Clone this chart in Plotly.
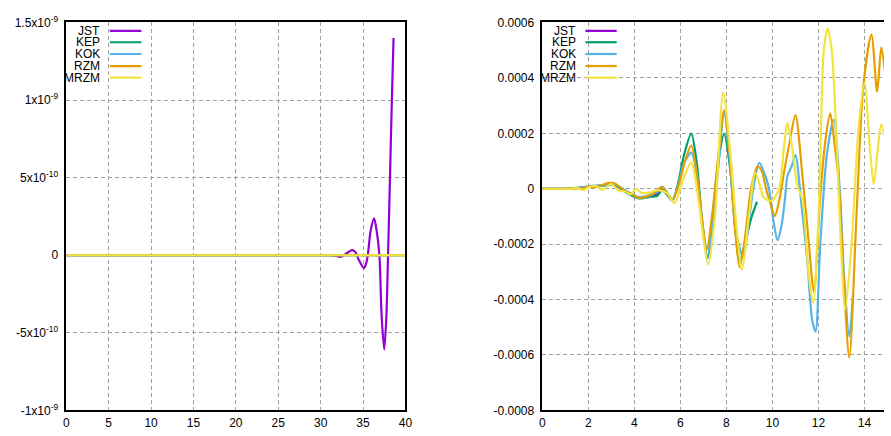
import plotly.graph_objects as go

# ---------------- data ----------------
SERIES = ["JST", "KEP", "KOK", "RZM", "MRZM"]
COLORS = {"JST": "#9400D3", "KEP": "#009E73", "KOK": "#56B4E9",
          "RZM": "#E69F00", "MRZM": "#F0E442"}

# left panel (values in 1e-10)
left_flat_x = [0, 5, 10, 15, 20, 25, 30, 35, 40]
left_flat_y = [0, 0, 0, 0, 0, 0, 0, 0, 0]
left_jst_x = [0, 5, 10, 15, 20, 25, 28, 30, 31, 31.8, 32.4, 33.0, 33.7, 34.1, 34.5,
              35.1, 35.35, 35.56, 35.9, 36.3, 36.6, 36.93, 37.2, 37.5, 37.75, 37.95,
              38.2, 38.4, 38.6]
left_jst_y = [0, 0, 0, 0, 0, 0, 0, 0.01, 0, -0.05, -0.1, 0.1, 0.33, 0.2, -0.3,
              -0.83, -0.55, 0, 1.6, 2.38, 1.6, 0, -4.0, -6.08, -4.0, 0,
              5.5, 10.0, 14.0]

# right panel (values in 1e-4)
jst_x = [0, 1.0, 1.4, 1.8, 2.1, 2.5, 2.8, 3.1, 3.5, 3.9, 4.2, 4.6, 5.0, 5.2, 5.4, 5.6]
jst_y = [0, 0, 0.02, 0.05, 0.08, 0.1, 0.12, 0.15, -0.03, -0.22, -0.32, -0.28, -0.2, -0.02, -0.15, -0.35]

kep_x = [0, 1.0, 1.4, 1.8, 2.1, 2.5, 2.8, 3.1, 3.5, 3.9, 4.2, 4.6, 5.0, 5.2, 5.4,
         5.65, 5.9, 6.15, 6.47, 6.7, 6.95, 7.18, 7.4, 7.65, 7.9, 8.15, 8.4, 8.57,
         8.85, 9.1, 9.33]
kep_y = [0, 0, 0.02, 0.05, 0.08, 0.1, 0.12, 0.15, -0.05, -0.25, -0.35, -0.3, -0.25,
         -0.05, -0.2, -0.42, 0.2, 1.2, 1.99, 1.0, -1.2, -2.5, -1.0, 1.0, 1.99, 0.8,
         -1.6, -2.67, -1.8, -1.0, -0.47]

kok_x = [0, 1.0, 1.4, 1.8, 2.1, 2.5, 2.8, 3.1, 3.5, 3.9, 4.2, 4.6, 5.0, 5.2, 5.4,
         5.65, 5.9, 6.15, 6.47, 6.7, 6.95, 7.18, 7.4, 7.65, 7.9, 8.15, 8.4, 8.72,
         9.0, 9.2, 9.43, 9.65, 9.85, 10.05, 10.22, 10.4, 10.55, 10.65, 10.85, 11.0,
         11.25, 11.51, 11.72, 11.87, 12.08, 12.37, 12.66, 12.94, 13.11, 13.34, 13.5]
kok_y = [0, 0, 0.02, 0.06, 0.1, 0.12, 0.1, 0.17, 0, -0.2, -0.3, -0.25, -0.1, 0.08,
         -0.1, -0.38, 0.1, 0.9, 1.3, 0.6, -1.3, -2.44, -1.2, 0.8, 2.75, 1.0, -1.5,
         -2.44, -1.0, 0.2, 0.93, 0.55, 0.0, -1.2, -1.86, -1.3, -0.3, 0.46, 0.85, 1.21,
         -0.5, -2.55, -4.7, -5.16, -1.97, 1.27, 2.49, -0.23, -3.13, -5.34, -3.8]

rzm_x = [0, 1.0, 1.4, 1.7, 1.98, 2.2, 2.49, 2.84, 3.13, 3.56, 3.92, 4.2, 4.7, 5.2,
         5.64, 5.95, 6.2, 6.47, 6.75, 6.95, 7.14, 7.4, 7.65, 7.9, 8.15, 8.35, 8.57,
         8.8, 9.07, 9.35, 9.55, 9.72, 9.9, 10.1, 10.3, 10.5, 10.75, 11.0, 11.29,
         11.58, 11.8, 12.08, 12.3, 12.51, 12.7, 12.87, 13.09, 13.34, 13.66, 13.95,
         14.3, 14.55, 14.73, 14.95]
rzm_y = [0, 0, 0.02, 0.0, 0.09, 0.05, 0.1, 0.2, 0.2, -0.06, -0.21, -0.33, -0.23, 0.05,
         -0.41, 0.2, 1.0, 1.56, 0.3, -1.2, -2.2, -0.8, 1.2, 2.84, 1.2, -1.2, -2.84,
         -1.8, 0.0, 0.81, 0.6, 0.0, -0.5, -0.99, -0.4, 0.58, 1.7, 2.66, 0.58,
         -1.96, -3.71, -0.22, 1.74, 2.72, 1.6, 0.35, -3.13, -6.09, -0.81, 3.71,
         5.56, 3.5, 5.1, 3.8]

mrzm_x = [0, 1.0, 1.3, 1.5, 1.77, 2.0, 2.3, 2.6, 2.99, 3.3, 3.6, 3.85, 4.06, 4.3,
          4.6, 5.0, 5.42, 5.75, 6.1, 6.47, 6.8, 7.0, 7.21, 7.5, 7.86, 8.2, 8.45,
          8.67, 9.0, 9.25, 9.5, 9.6, 9.96, 10.29, 10.5, 10.65, 10.85, 11.08, 11.29,
          11.37, 11.58, 11.77, 12.01, 12.23, 12.4, 12.58, 12.8, 12.97, 13.16, 13.44,
          13.73, 14.0, 14.23, 14.4, 14.6, 14.73, 14.95]
mrzm_y = [0, 0, 0, 0.03, -0.05, 0.05, 0.1, -0.04, 0.17, -0.07, -0.1, -0.2, 0.0,
          -0.15, -0.15, -0.05, -0.16, -0.52, 0.3, 0.93, -0.5, -1.8, -2.73, -1.0,
          3.47, 1.0, -1.5, -2.92, -0.8, 0.58, 0.0, -0.3, -0.44, 0.0, 1.5, 2.38,
          1.5, 0.11, -0.35, -0.81, -3.13, -4.12, -0.81, 4.98, 5.79, 4.98, 1.5,
          -1.97, -4.35, -1.97, 2.08, 3.82, 1.5, 0.17, 1.6, 2.32, 1.6]

right_data = {
    "JST": (jst_x, jst_y), "KEP": (kep_x, kep_y), "KOK": (kok_x, kok_y),
    "RZM": (rzm_x, rzm_y), "MRZM": (mrzm_x, mrzm_y),
}

left_ticks = [-1e-9, -5e-10, 0, 5e-10, 1e-9, 1.5e-9]
left_tick_text = ["-1x10<sup>-9</sup>", "-5x10<sup>-10</sup>", "0",
                  "5x10<sup>-10</sup>", "1x10<sup>-9</sup>", "1.5x10<sup>-9</sup>"]
right_ticks = [-0.0008, -0.0006, -0.0004, -0.0002, 0, 0.0002, 0.0004, 0.0006]
right_tick_text = ["-0.0008", "-0.0006", "-0.0004", "-0.0002", "0",
                   "0.0002", "0.0004", "0.0006"]

# ---------------- layout geometry ----------------
W, H = 891, 436
def px(x):
    return x / W
def py(y):
    return 1 - y / H

fig = go.Figure()

for name in SERIES:
    if name == "JST":
        xs, ys = left_jst_x, left_jst_y
    else:
        xs, ys = left_flat_x, left_flat_y
    fig.add_trace(go.Scatter(
        x=xs, y=[v * 1e-10 for v in ys], mode="lines",
        line=dict(color=COLORS[name], width=2.2, shape="spline", smoothing=0.8),
        xaxis="x", yaxis="y", showlegend=False, hoverinfo="skip"))

for name in SERIES:
    xs, ys = right_data[name]
    fig.add_trace(go.Scatter(
        x=xs, y=[v * 1e-4 for v in ys], mode="lines",
        line=dict(color=COLORS[name], width=2.2, shape="spline", smoothing=0.8),
        xaxis="x2", yaxis="y2", showlegend=False, hoverinfo="skip"))

font = dict(family="Liberation Sans, Arial, sans-serif", size=12, color="#000")
grid = dict(showgrid=True, gridcolor="#a0a0a0", gridwidth=1, griddash="4px,3px",
            zeroline=False, ticks="", tickfont=font)

y_dom = [py(416.7), py(14)]
x2_end = (W - 545.5) / 23.27

fig.update_layout(
    width=W, height=H, margin=dict(l=0, r=0, t=0, b=0),
    paper_bgcolor="white", plot_bgcolor="white", font=font,
    xaxis=dict(domain=[px(64), px(407)], range=[0, 40], tickvals=list(range(0, 41, 5)),
               showline=True, linecolor="#000", linewidth=1.5, mirror=True,
               anchor="y", **grid),
    yaxis=dict(domain=y_dom, range=[-1e-9, 1.5e-9], tickvals=left_ticks,
               ticktext=left_tick_text, showline=True, linecolor="#000",
               linewidth=1.5, mirror=True, anchor="x", ticklabelstandoff=4, **grid),
    xaxis2=dict(domain=[px(545.5), 1.0], range=[0, x2_end],
                tickvals=list(range(0, 15, 2)), showline=True, linecolor="#000",
                linewidth=1.5, mirror=True, anchor="y2", **grid),
    yaxis2=dict(domain=y_dom, range=[-0.0008, 0.0006], tickvals=right_ticks,
                ticktext=right_tick_text, showline=True, linecolor="#000",
                linewidth=1.5, mirror=False, anchor="x2", ticklabelstandoff=4, **grid),
)

# key boxes: right-aligned labels with a line sample beside each
rows = [22.7, 34.5, 46.7, 59.2, 71.3]
for text_right, l0, l1 in [(100, 108, 140), (581.7, 589, 620.7)]:
    for name, yy in zip(SERIES, rows):
        fig.add_annotation(x=px(text_right), y=py(yy), xref="paper", yref="paper",
                           text=name, showarrow=False, xanchor="right",
                           yanchor="middle", font=font)
        fig.add_shape(type="line", xref="paper", yref="paper",
                      x0=px(l0), x1=px(l1), y0=py(yy), y1=py(yy),
                      line=dict(color=COLORS[name], width=2.2))

fig.write_html("out.html")
